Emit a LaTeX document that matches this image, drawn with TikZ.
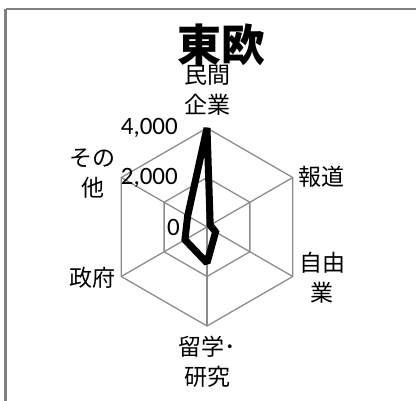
\documentclass[tikz,border=0pt]{standalone}
\usepackage{fontspec}
\setmainfont{Carlito}
\newfontfamily\jp{Noto Sans CJK JP}
\usetikzlibrary{calc}

\begin{document}
\begin{tikzpicture}[x=1pt,y=-1pt,
    grid/.style={draw=black!45, line width=1.3pt},
    series/.style={draw=black, line width=7pt, line join=miter, miter limit=2},
    axislabel/.style={font=\jp\fontsize{23}{30}\selectfont, align=center, inner sep=0pt},
    ticklabel/.style={font=\fontsize{25}{25}\selectfont, anchor=east, inner sep=0pt}]
  \useasboundingbox (0,0) rectangle (416,401);
  % chart frame
  \draw[black!50, line width=2.5pt] (5.5,9) -- (5.5,430);
  \draw[black!50, line width=2pt] (5.5,9) -- (430,9);
  % title
  \node[font=\jp\bfseries\fontsize{44}{44}\selectfont, inner sep=0pt] (title) at (221,45) {東欧};
  \begin{scope}[shift={(207,227)}]
    \coordinate (c) at (0,0);
    % rings and spokes
    \foreach \r in {49.5,99} {
      \draw[grid] (-90:\r) -- (-30:\r) -- (30:\r) -- (90:\r) -- (150:\r) -- (210:\r) -- cycle;
    }
    \foreach \k in {0,...,5} {
      \draw[grid] (c) -- (60*\k-90:99);
    }
    % data: 4000 = 99pt
    \draw[series] (-90:99) -- (-30:3.7) -- (30:9.9) -- (90:35.9)
      -- (150:25.5) -- (210:22.3) -- cycle;
  \end{scope}
  % tick labels
  \node[ticklabel] (t4000) at (178,128) {4,000};
  \node[ticklabel] (t2000) at (178,178) {2,000};
  \node[ticklabel] (t0)    at (180,227) {0};
  % axis labels
  \node[axislabel] (minkan)  at (207,90)  {民間\\企業};
  \node[axislabel] (hodo)    at (321,177) {報道};
  \node[axislabel] (jiyu)    at (322,278) {自由\\業};
  \node[axislabel] (ryugaku) at (207,362) {留学･\\研究};
  \node[axislabel] (seifu)   at (93,278)  {政府};
  \node[axislabel] (sonota)  at (93,174)  {その\\他};
\end{tikzpicture}
\end{document}
